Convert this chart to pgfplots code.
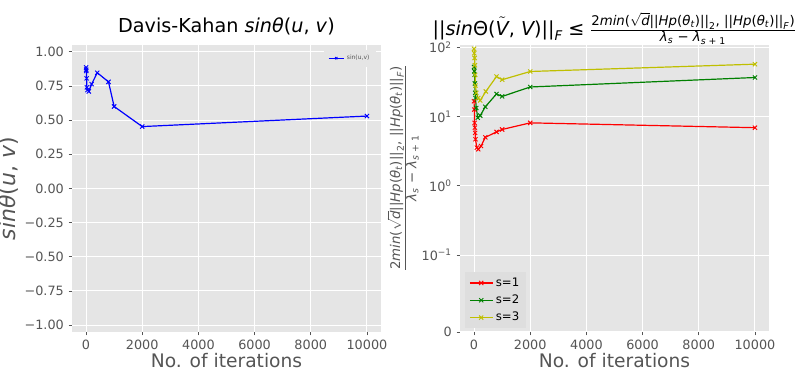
\documentclass[border=0pt]{standalone}
\usepackage{fontspec}
\setmainfont{DejaVu Sans}
\usepackage{amsmath}
\usepackage{pgfplots}
\pgfplotsset{compat=1.18}
\definecolor{bg}{HTML}{E5E5E5}
\definecolor{tk}{HTML}{555555}
\definecolor{mplred}{rgb}{1,0,0}
\definecolor{mplgreen}{rgb}{0,0.5,0}
\definecolor{mplyellow}{rgb}{0.75,0.75,0}
\definecolor{mplblue}{rgb}{0,0,1}
\newcommand{\ti}[1]{\text{\itshape #1}}
\newcommand{\tu}[1]{\text{#1}}
\newcommand{\bound}{\frac{\tu{2}\ti{min}\tu{(}\sqrt{\ti{d}}\tu{||}\ti{Hp}\tu{(}\ti{θ}_{\ti{t}}\tu{)||}_{\tu{2}}\tu{, ||}\ti{Hp}\tu{(}\ti{θ}_{\ti{t}}\tu{)||}_{\ti{F}}\tu{)}}{\ti{λ}_{\ti{s}}\tu{ − }\ti{λ}_{\ti{s}\tu{ + 1}}}}

\pgfplotsset{ggstyle/.style={
  scale only axis, width=231.75pt, height=215.25pt,
  axis background/.style={fill=bg},
  axis line style={draw=none},
  grid=major, major grid style={white, line width=0.75pt},
  tick style={tk, line width=0.6pt}, tick align=outside, major tick length=2.6pt,
  tick pos=left,
  ticklabel style={font=\fontsize{9.6}{11}\selectfont, text=tk},
  xmin=-500, xmax=10500, xtick={0,2000,4000,6000,8000,10000},
  xticklabels={0,2000,4000,6000,8000,10000}, scaled x ticks=false,
  xlabel={No. of iterations},
  xlabel style={font=\fontsize{14}{16}\selectfont, text=tk, yshift=4pt},
  title style={font=\fontsize{14.4}{16}\selectfont, text=black},
  every axis plot/.append style={line width=0.9pt, mark=x, mark size=2.2pt,
    mark options={line width=0.7pt}},
}}

\begin{document}
\begin{tikzpicture}
\begin{axis}[ggstyle, at={(0,0)}, anchor=south west,
  ymin=-1.05, ymax=1.05,
  ytick={-1,-0.75,-0.5,-0.25,0,0.25,0.5,0.75,1},
  yticklabels={−1.00,−0.75,−0.50,−0.25,0.00,0.25,0.50,0.75,1.00},
  ylabel={\textit{sinθ}(\textit{u}, \textit{v})},
  ylabel style={font=\fontsize{16.5}{18}\selectfont, text=tk, yshift=-2pt},
  title={Davis-Kahan \textit{sinθ}(\textit{u}, \textit{v})},
  title style={yshift=-2pt},
  legend style={at={(0.985,0.985)}, anchor=north east, fill=bg, draw=none,
    font=\fontsize{4.5}{5}\selectfont, text=tk},
  legend image code/.code={\draw[#1, line width=0.6pt, mark size=1.2pt, mark repeat=2, mark phase=2]
    plot coordinates {(0cm,0cm) (0.2cm,0cm) (0.4cm,0cm)};},
]
\addplot[mplblue] coordinates {
  (1,0.886) (5,0.870) (10,0.860) (20,0.806) (30,0.740) (50,0.720) (100,0.710)
  (200,0.764) (400,0.847) (800,0.780) (1000,0.600) (2000,0.453) (10000,0.530)};
\addlegendentry{sin(u,v)}
\end{axis}

\begin{axis}[ggstyle, at={(291pt,0)}, anchor=south west,
  ymode=log, ymin=0.00774, ymax=107.9,
  ytick={0.00774,0.1,1,10,100},
  yticklabels={0,10\textsuperscript{−1},10\textsuperscript{0},10\textsuperscript{1},10\textsuperscript{2}},
  yminorticks=false,
  title={$\tu{||}\ti{sin}\tu{Θ(}\tilde{\ti{V}}\tu{, }\ti{V}\tu{)||}_{\ti{F}}\mathrel{\tu{≤}}\bound$},
  title style={yshift=-9pt},
  legend style={at={(0.016,0.012)}, anchor=south west, fill=black!13, draw=none,
    font=\fontsize{8.8}{10}\selectfont, text=black, row sep=1pt},
  legend cell align=left,
]
\addplot[mplred] coordinates {
  (0,16.6) (10,12.6) (20,8.1) (30,6.9) (40,5.8) (50,4.7) (100,3.55) (150,3.36)
  (250,3.75) (400,5.0) (800,6.0) (1000,6.5) (2000,8.1) (10000,6.9)};
\addlegendentry{s=1}
\addplot[mplgreen] coordinates {
  (0,52) (10,45) (20,40) (30,30) (40,22) (50,18.5) (80,13.3) (130,9.6)
  (220,10.3) (400,13.8) (800,21.2) (1000,19.5) (2000,26.7) (10000,36.6)};
\addlegendentry{s=2}
\addplot[mplyellow] coordinates {
  (0,95) (10,82) (20,70) (30,55) (40,40) (50,28) (80,22) (150,18.5)
  (220,17.1) (420,23) (800,37.8) (1000,34) (2000,44.7) (10000,57)};
\addlegendentry{s=3}
\end{axis}

\node[rotate=90, text=tk, font=\fontsize{14.4}{16}\selectfont] at (248.25pt,123pt) {$\bound$};

\pgfresetboundingbox
\path (-54pt,-30.75pt) rectangle (546pt,249pt);
\end{tikzpicture}
\end{document}
